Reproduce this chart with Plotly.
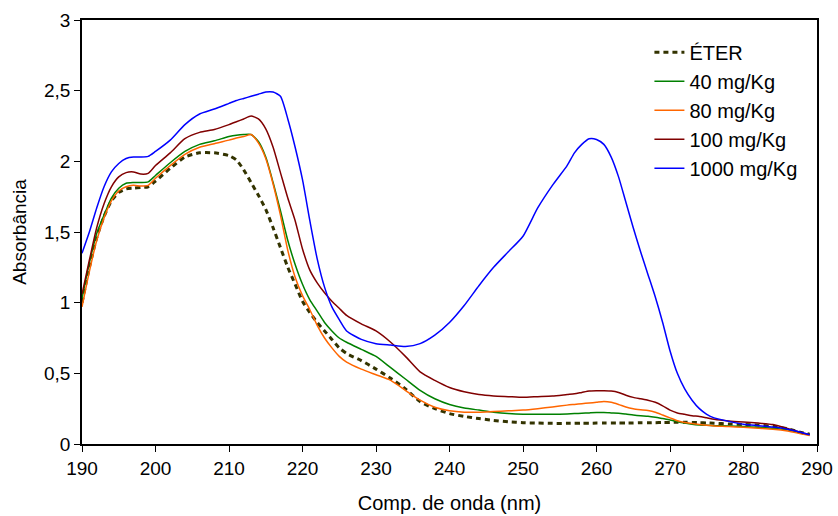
import plotly.graph_objects as go

# Wavelength grid (nm)
wavelength = [190, 191, 192, 193, 194, 195, 196, 197, 198, 199, 200,
              202, 204, 206, 208,
              210, 211, 212, 213, 214, 215, 216, 217, 218, 219, 220,
              221, 222, 223, 224, 225, 226,
              228, 230, 232, 234, 236, 238, 240, 242, 244, 246, 248, 250,
              252, 254, 256,
              257, 258, 259, 260, 261, 262, 263, 264, 265, 266, 267, 268,
              269, 270, 271, 272, 273, 274, 275, 276,
              278, 280, 282, 284, 286, 288, 289]

eter = [1.00, 1.25, 1.46, 1.61, 1.72, 1.78, 1.805, 1.81, 1.815, 1.82, 1.86,
        1.95, 2.03, 2.06, 2.06,
        2.04, 2.01, 1.94, 1.85, 1.76, 1.66, 1.53, 1.39, 1.25, 1.13, 1.01,
        0.93, 0.86, 0.80, 0.74, 0.68, 0.64,
        0.59, 0.53, 0.465, 0.39, 0.30, 0.25, 0.215, 0.195, 0.18, 0.167, 0.157, 0.151,
        0.148, 0.146, 0.146,
        0.146, 0.147, 0.147, 0.148, 0.148, 0.148, 0.148, 0.148, 0.149, 0.150, 0.150, 0.151,
        0.152, 0.153, 0.154, 0.154, 0.153, 0.151, 0.149, 0.147,
        0.142, 0.138, 0.134, 0.125, 0.108, 0.080, 0.070]

mg40 = [1.03, 1.28, 1.49, 1.62, 1.74, 1.81, 1.845, 1.85, 1.85, 1.855, 1.90,
        1.99, 2.07, 2.12, 2.145,
        2.175, 2.185, 2.19, 2.19, 2.14, 2.03, 1.85, 1.65, 1.44, 1.27, 1.13,
        1.02, 0.94, 0.86, 0.80, 0.75, 0.72,
        0.67, 0.62, 0.54, 0.46, 0.38, 0.32, 0.28, 0.255, 0.24, 0.225, 0.215, 0.21,
        0.21, 0.21, 0.213,
        0.215, 0.218, 0.22, 0.222, 0.222, 0.22, 0.218, 0.212, 0.205, 0.20, 0.197, 0.19,
        0.18, 0.17, 0.158, 0.148, 0.14, 0.135, 0.132, 0.13,
        0.128, 0.124, 0.118, 0.112, 0.10, 0.075, 0.067]

mg80 = [0.97, 1.22, 1.44, 1.60, 1.72, 1.79, 1.82, 1.83, 1.825, 1.83, 1.88,
        1.97, 2.05, 2.10, 2.125,
        2.15, 2.165, 2.175, 2.19, 2.13, 2.02, 1.84, 1.62, 1.37, 1.18, 1.05,
        0.95, 0.84, 0.75, 0.68, 0.62, 0.58,
        0.53, 0.49, 0.45, 0.38, 0.31, 0.26, 0.235, 0.225, 0.225, 0.23, 0.235, 0.24,
        0.25, 0.262, 0.275,
        0.28, 0.285, 0.29, 0.295, 0.30, 0.295, 0.28, 0.262, 0.25, 0.243, 0.237, 0.225,
        0.205, 0.185, 0.165, 0.152, 0.145, 0.138, 0.132, 0.128,
        0.124, 0.118, 0.112, 0.105, 0.092, 0.070, 0.060]

mg100 = [1.06, 1.30, 1.53, 1.70, 1.82, 1.89, 1.92, 1.925, 1.91, 1.915, 1.97,
         2.06, 2.16, 2.205, 2.225,
         2.26, 2.28, 2.30, 2.32, 2.30, 2.23, 2.10, 1.92, 1.74, 1.58, 1.38,
         1.23, 1.14, 1.07, 1.01, 0.96, 0.91,
         0.85, 0.80, 0.72, 0.62, 0.51, 0.45, 0.40, 0.37, 0.35, 0.34, 0.335, 0.33,
         0.335, 0.34, 0.35,
         0.355, 0.365, 0.375, 0.377, 0.377, 0.375, 0.365, 0.345, 0.33, 0.32, 0.31, 0.295,
         0.27, 0.24, 0.22, 0.21, 0.20, 0.195, 0.185, 0.175,
         0.163, 0.155, 0.148, 0.138, 0.11, 0.078, 0.068]

mg1000 = [1.35, 1.50, 1.67, 1.82, 1.925, 1.985, 2.02, 2.03, 2.03, 2.035, 2.07,
          2.15, 2.26, 2.335, 2.37,
          2.41, 2.43, 2.445, 2.46, 2.475, 2.49, 2.49, 2.46, 2.30, 2.10, 1.87,
          1.58, 1.31, 1.11, 0.97, 0.88, 0.80,
          0.74, 0.71, 0.70, 0.69, 0.71, 0.77, 0.86, 0.98, 1.12, 1.25, 1.36, 1.47,
          1.67, 1.83, 1.97,
          2.06, 2.12, 2.16, 2.155, 2.12, 2.03, 1.89, 1.71, 1.53, 1.36, 1.20, 1.04,
          0.86, 0.66, 0.50, 0.39, 0.31, 0.25, 0.21, 0.185,
          0.16, 0.14, 0.13, 0.12, 0.105, 0.08, 0.065]

x_ticks = [190, 200, 210, 220, 230, 240, 250, 260, 270, 280, 290]
y_ticks = [0, 0.5, 1, 1.5, 2, 2.5, 3]
y_tick_labels = ["0", "0,5", "1", "1,5", "2", "2,5", "3"]

series = [
    ("ÉTER", eter, "#333300", 3, "5px,4px"),
    ("40 mg/Kg", mg40, "#008000", 1.5, "solid"),
    ("80 mg/Kg", mg80, "#ff6600", 1.5, "solid"),
    ("100 mg/Kg", mg100, "#800000", 1.5, "solid"),
    ("1000 mg/Kg", mg1000, "#0000ff", 1.5, "solid"),
]

fig = go.Figure()
for name, values, color, width, dash in series:
    fig.add_trace(go.Scatter(
        x=wavelength, y=values, name=name, mode="lines",
        line=dict(color=color, width=width, dash=dash, shape="spline", smoothing=0.6),
    ))

font_family = "Liberation Sans, Arial, sans-serif"

fig.update_layout(
    width=838, height=516,
    margin=dict(l=82, r=21, t=20, b=72, autoexpand=False),
    paper_bgcolor="white", plot_bgcolor="white",
    font=dict(family=font_family, size=19, color="black"),
    showlegend=True,
    legend=dict(
        x=0.772, y=0.97, xanchor="left", yanchor="top",
        font=dict(size=20, color="black"),
        bgcolor="rgba(0,0,0,0)", borderwidth=0,
        tracegroupgap=0,
    ),
)

fig.update_xaxes(
    range=[190, 290], tickvals=x_ticks,
    showgrid=False, zeroline=False,
    showline=True, linecolor="black", linewidth=1.5, mirror=True,
    ticks="outside", ticklen=6, tickcolor="black", tickwidth=1,
    tickfont=dict(size=19),
    title=dict(text="Comp. de onda (nm)", font=dict(size=20), standoff=18),
    automargin=False,
)
fig.update_yaxes(
    range=[0, 3], tickvals=y_ticks, ticktext=y_tick_labels,
    showgrid=False, zeroline=False,
    showline=True, linecolor="black", linewidth=1.5, mirror=True,
    ticks="outside", ticklen=6, tickcolor="black", tickwidth=1,
    tickfont=dict(size=19),
    title=dict(text="Absorbância", font=dict(size=19), standoff=12),
    automargin=False,
)

fig.write_html("out.html")
